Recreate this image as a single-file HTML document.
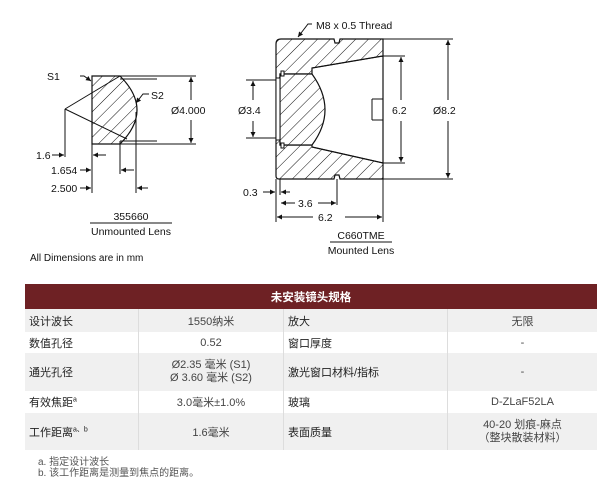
<!DOCTYPE html>
<html><head><meta charset="utf-8"><style>
body{margin:0;background:#fff;width:611px;height:489px;overflow:hidden;position:relative;font-family:"Liberation Sans","Noto Sans CJK SC",sans-serif}
svg{position:absolute;left:0;top:0}
table{position:absolute;left:25px;top:284px;width:572px;border-collapse:collapse;font-size:11px;color:#222}
td{padding:0 4px;border-left:1px solid #ddd}
td:first-child{border-left:none}
.h td{background:#6e2124;color:#fff;font-weight:bold;text-align:center;height:25px;font-size:11.5px}
tr.g td{background:#f0f0f0}
td.c{text-align:center;color:#444}
.fn{position:absolute;left:38px;font-size:10px;color:#555;line-height:11px}
</style></head><body>
<svg width="611" height="280" viewBox="0 0 611 280" font-family="Liberation Sans,sans-serif" font-size="10.5" fill="#111">
<defs>
<pattern id="hp" patternUnits="userSpaceOnUse" width="9" height="9" patternTransform="rotate(45)">
<rect width="9" height="9" fill="#fff"/><line x1="0" y1="0" x2="0" y2="9" stroke="#111" stroke-width="1"/></pattern>
<marker id="a" viewBox="0 0 10 10" refX="10" refY="5" markerWidth="7" markerHeight="5" orient="auto-start-reverse"><path d="M0,0L10,5L0,10z" fill="#111"/></marker>
</defs>
<g stroke="#111" stroke-width="1" fill="none">
<!-- left lens -->
<path d="M92,76 L120,76 Q154,110 120,144 L92,144 Z" fill="url(#hp)" stroke-width="1.2"/>
<path d="M65,109 L120,76 M65,109 L127,139"/>
<path d="M120,76 L196,76 M92,144 L196,144 M120,79 L157,79 M120,141 L157,141"/>
<path d="M191,100 L191,77" marker-end="url(#a)"/><path d="M191,120 L191,143" marker-end="url(#a)"/>
<path d="M65,109 L65,157 M92,144 L92,193 M120,141 L120,174 M136,112 L136,193"/>
<path d="M52,155 L64,155" marker-end="url(#a)"/><path d="M106,155 L93,155" marker-end="url(#a)"/>
<path d="M80,170 L91,170" marker-end="url(#a)"/><path d="M134,170 L121,170" marker-end="url(#a)"/>
<path d="M80,188 L91,188" marker-end="url(#a)"/><path d="M148,188 L137,188" marker-end="url(#a)"/>
<path d="M80,76 L84,76 L91,81" marker-end="url(#a)"/>
<path d="M149,94 L143,94 L136,103" marker-end="url(#a)"/>
<path d="M90,223 L172,223"/>
<!-- right mounted -->
<path fill-rule="evenodd" fill="url(#hp)" stroke-width="1.2" d="M281,39 L334,39 L335,43 L339,43 L340,39 L383,39 L383,179 L340,179 L339,175 L335,175 L334,179 L279,179 Q276,179 276,176 L276,44 Q276,39 281,39 Z M280,74 L312,74 L312,68 L383,56 L383,163 L312,147 L312,145 L280,145 Z"/>
<path d="M312,68 L383,56 M372,99 L372,120 M372,99 L383,99 M372,120 L383,120 M312,147 L383,163"/>
<path d="M280,74 L312,74 Q338,110 312,145 L280,145 Z" fill="url(#hp)" stroke-width="1.2"/>
<rect x="276" y="78" width="4" height="62" fill="#fff"/>
<rect x="281" y="71" width="3" height="5" fill="#fff"/><rect x="281" y="143" width="3" height="5" fill="#fff"/>
<path d="M246,80 L276,80 M246,138 L276,138"/>
<path d="M253,100 L253,81" marker-end="url(#a)"/><path d="M253,121 L253,137" marker-end="url(#a)"/>
<path d="M383,56 L405,56 M383,163 L405,163"/>
<path d="M401,100 L401,57" marker-end="url(#a)"/><path d="M401,121 L401,162" marker-end="url(#a)"/>
<path d="M383,39 L453,39 M383,179 L453,179"/>
<path d="M448,100 L448,40" marker-end="url(#a)"/><path d="M448,121 L448,178" marker-end="url(#a)"/>
<path d="M276,179 L276,222 M280,179 L280,195 M337,179 L337,205 M383,179 L383,222"/>
<path d="M263,192 L275,192" marker-end="url(#a)"/><path d="M290,192 L281,192" marker-end="url(#a)"/>
<path d="M295,203 L281,203" marker-end="url(#a)"/><path d="M318,203 L336,203" marker-end="url(#a)"/>
<path d="M313,217 L277,217" marker-end="url(#a)"/><path d="M345,217 L382,217" marker-end="url(#a)"/>
<path d="M312,24 L308,24 L298,37" marker-end="url(#a)"/>
<path d="M330,242 L392,242"/>
</g>
<text x="47" y="80">S1</text>
<text x="151" y="99">S2</text>
<text x="171" y="114">Ø4.000</text>
<text x="36" y="159">1.6</text>
<text x="51" y="174">1.654</text>
<text x="51" y="192">2.500</text>
<text x="131" y="220" text-anchor="middle">355660</text>
<text x="131" y="235" text-anchor="middle">Unmounted Lens</text>
<text x="30" y="261" font-size="10">All Dimensions are in mm</text>
<text x="316" y="29">M8 x 0.5 Thread</text>
<text x="238" y="114">Ø3.4</text>
<text x="392" y="114">6.2</text>
<text x="433" y="114">Ø8.2</text>
<text x="243" y="196">0.3</text>
<text x="298" y="207">3.6</text>
<text x="318" y="221">6.2</text>
<text x="361" y="239" text-anchor="middle">C660TME</text>
<text x="361" y="254" text-anchor="middle">Mounted Lens</text>
</svg>
<table>
<tr class="h"><td colspan="4">未安装镜头规格</td></tr>
<tr class="g" style="height:23px"><td style="width:105px">设计波长</td><td class="c" style="width:136px">1550纳米</td><td style="width:155px">放大</td><td class="c">无限</td></tr>
<tr style="height:21px"><td>数值孔径</td><td class="c">0.52</td><td>窗口厚度</td><td class="c">-</td></tr>
<tr class="g" style="height:38px"><td>通光孔径</td><td class="c" style="line-height:13px">Ø2.35 毫米 (S1)<br>Ø 3.60 毫米 (S2)</td><td>激光窗口材料/指标</td><td class="c">-</td></tr>
<tr style="height:22px"><td>有效焦距<sup style="font-size:7px">a</sup></td><td class="c">3.0毫米±1.0%</td><td>玻璃</td><td class="c">D-ZLaF52LA</td></tr>
<tr class="g" style="height:37px"><td>工作距离<sup style="font-size:7px">a、b</sup></td><td class="c">1.6毫米</td><td>表面质量</td><td class="c" style="line-height:13px">40-20 划痕-麻点<br>（整块散装材料）</td></tr>
</table>
<div class="fn" style="top:457px">a. 指定设计波长<br>b. 该工作距离是测量到焦点的距离。</div>
</body></html>
